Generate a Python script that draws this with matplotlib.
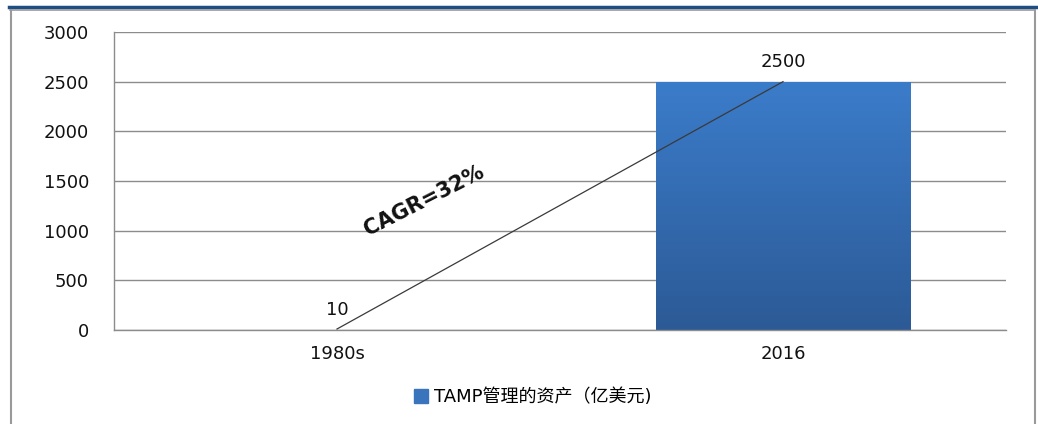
import matplotlib
matplotlib.use("Agg")
import matplotlib.pyplot as plt
import numpy as np
from matplotlib.lines import Line2D
from matplotlib.colors import LinearSegmentedColormap

plt.rcParams['font.family'] = ['DejaVu Sans', 'Noto Sans CJK SC']

categories = ["1980s", "2016"]
bar_values = [0, 2500]
line_values = [10, 2500]
line_labels = ["10", "2500"]
yticks = [0, 500, 1000, 1500, 2000, 2500, 3000]
legend_label = "TAMP管理的资产（亿美元)"
annotation = "CAGR=32%"

FS = 13

fig = plt.figure(figsize=(10.38, 4.24), dpi=100)
ax = fig.add_axes([114/1038, 1-330/424, (1006-114)/1038, (330-32)/424])

x = np.arange(len(categories))
bars = ax.bar(x, bar_values, width=0.57, color='#3a78c4', zorder=2)
grad = np.linspace(0, 1, 256).reshape(-1, 1)
cmap = LinearSegmentedColormap.from_list('g', ['#2c5a96', '#3b7cca'])
for b in bars:
    if b.get_height() <= 0:
        continue
    im = ax.imshow(grad, extent=[b.get_x(), b.get_x()+b.get_width(), 0, b.get_height()],
                   origin='lower', cmap=cmap, aspect='auto', zorder=2)
    im.set_clip_path(b)

ax.plot(x, line_values, color='#3a3a3a', lw=0.9, zorder=3)
ax.text(x[0], line_values[0] + 190, line_labels[0], ha='center', va='center', fontsize=FS, color='#111111')
ax.text(x[1], line_values[1] + 200, line_labels[1], ha='center', va='center', fontsize=FS, color='#111111')
ax.text(0.195, 1300, annotation, rotation=27, ha='center', va='center', fontsize=15,
        fontweight='bold', color='#111111', zorder=4)

ax.set_xlim(-0.5, 1.5)
ax.set_ylim(0, 3000)
ax.set_xticks(x)
ax.set_xticklabels(categories, fontsize=FS, color='#111111')
ax.set_yticks(yticks)
ax.set_yticklabels([str(v) for v in yticks], fontsize=FS, color='#111111')
ax.tick_params(axis='y', length=0, pad=18)
ax.tick_params(axis='x', length=0, pad=11)
ax.yaxis.grid(True, color='#8c8c8c', lw=1.0, zorder=0)
ax.set_axisbelow(True)
for s in ['top', 'right']:
    ax.spines[s].set_visible(False)
for s in ['left', 'bottom']:
    ax.spines[s].set_color('#8c8c8c')
    ax.spines[s].set_linewidth(1.0)

handle = Line2D([], [], marker='s', color='none', markerfacecolor='#3a74bd',
                markeredgecolor='#3a74bd', markersize=10)
fig.legend([handle], [legend_label], loc='center', bbox_to_anchor=(532/1038, 1-397/424),
           frameon=False, handletextpad=0.2, handlelength=1.0,
           prop={'family': ['DejaVu Sans', 'Noto Sans CJK SC'], 'size': FS})

# outer frame
fig.add_artist(Line2D([9/1038, 1], [1-7/424, 1-7/424], color='#1f4e84', lw=2.5, transform=fig.transFigure))
fig.add_artist(Line2D([10/1038, 1035/1038], [1-10/424, 1-10/424], color='#9a9a9a', lw=1.2, transform=fig.transFigure))
fig.add_artist(Line2D([10.5/1038, 10.5/1038], [0, 1-10/424], color='#9a9a9a', lw=1.5, transform=fig.transFigure))
fig.add_artist(Line2D([1035/1038, 1035/1038], [0, 1-10/424], color='#9a9a9a', lw=1.5, transform=fig.transFigure))

fig.savefig("out.png", dpi=100)
